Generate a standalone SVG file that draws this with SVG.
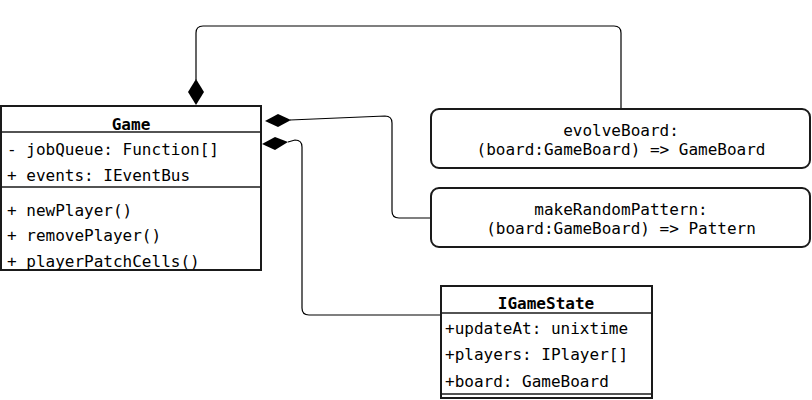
<svg xmlns="http://www.w3.org/2000/svg" width="812" height="400" viewBox="0 0 812 400">
<style>
.box{fill:#fff;stroke:#1a1a1a;stroke-width:2}
.sep{stroke:#1a1a1a;stroke-width:1.5;fill:none}
.t{font-family:"DejaVu Sans Mono",monospace;font-size:16px;fill:#000}
.b{font-family:"DejaVu Sans Mono",monospace;font-size:16px;font-weight:bold;fill:#000}
.c{fill:none;stroke:#000;stroke-width:1.2}
.d{fill:#000;stroke:none}
</style>
<rect width="812" height="400" fill="#fff"/>
<g id="connectors">
<path class="c" d="M621,109 V33 Q621,26 614,26 H203 Q196,26 196,33 V80"/>
<polygon class="d" points="196,79 204,92 196,105 188,92"/>
<path class="c" d="M431,218 H399 Q392,218 392,211 V123 Q392,116 385,116 L290,120"/>
<polygon class="d" points="265,121 278,114 291,120 278,127"/>
<path class="c" d="M441,315 H309 Q302,315 302,308 V147 Q302,140 295,140 L288,142"/>
<polygon class="d" points="262,144 275,137 288,142 275,150"/>
</g>
<g id="Game">
<rect class="box" x="1" y="106" width="260" height="164"/>
<line class="sep" x1="1" y1="132" x2="261" y2="132"/>
<line class="sep" x1="1" y1="187" x2="261" y2="187"/>
<text class="b" x="131" y="130" text-anchor="middle">Game</text>
<text class="t" x="7" y="155">- jobQueue: Function[]</text>
<text class="t" x="7" y="181">+ events: IEventBus</text>
<text class="t" x="7" y="216">+ newPlayer()</text>
<text class="t" x="7" y="241">+ removePlayer()</text>
<text class="t" x="7" y="267">+ playerPatchCells()</text>
</g>
<g id="evolveBoard">
<rect class="box" x="431" y="109" width="379" height="59" rx="8"/>
<text class="t" x="621" y="136" text-anchor="middle">evolveBoard:</text>
<text class="t" x="621" y="155" text-anchor="middle">(board:GameBoard) =&gt; GameBoard</text>
</g>
<g id="makeRandomPattern">
<rect class="box" x="431" y="188" width="379" height="59" rx="8"/>
<text class="t" x="621" y="215" text-anchor="middle">makeRandomPattern:</text>
<text class="t" x="621" y="234" text-anchor="middle">(board:GameBoard) =&gt; Pattern</text>
</g>
<g id="IGameState">
<rect class="box" x="441" y="286" width="211" height="112"/>
<line class="sep" x1="441" y1="313" x2="652" y2="313"/>
<line class="sep" x1="441" y1="394" x2="652" y2="394"/>
<text class="b" x="546" y="309" text-anchor="middle">IGameState</text>
<text class="t" x="445" y="334">+updateAt: unixtime</text>
<text class="t" x="445" y="360">+players: IPlayer[]</text>
<text class="t" x="445" y="387">+board: GameBoard</text>
</g>
</svg>
